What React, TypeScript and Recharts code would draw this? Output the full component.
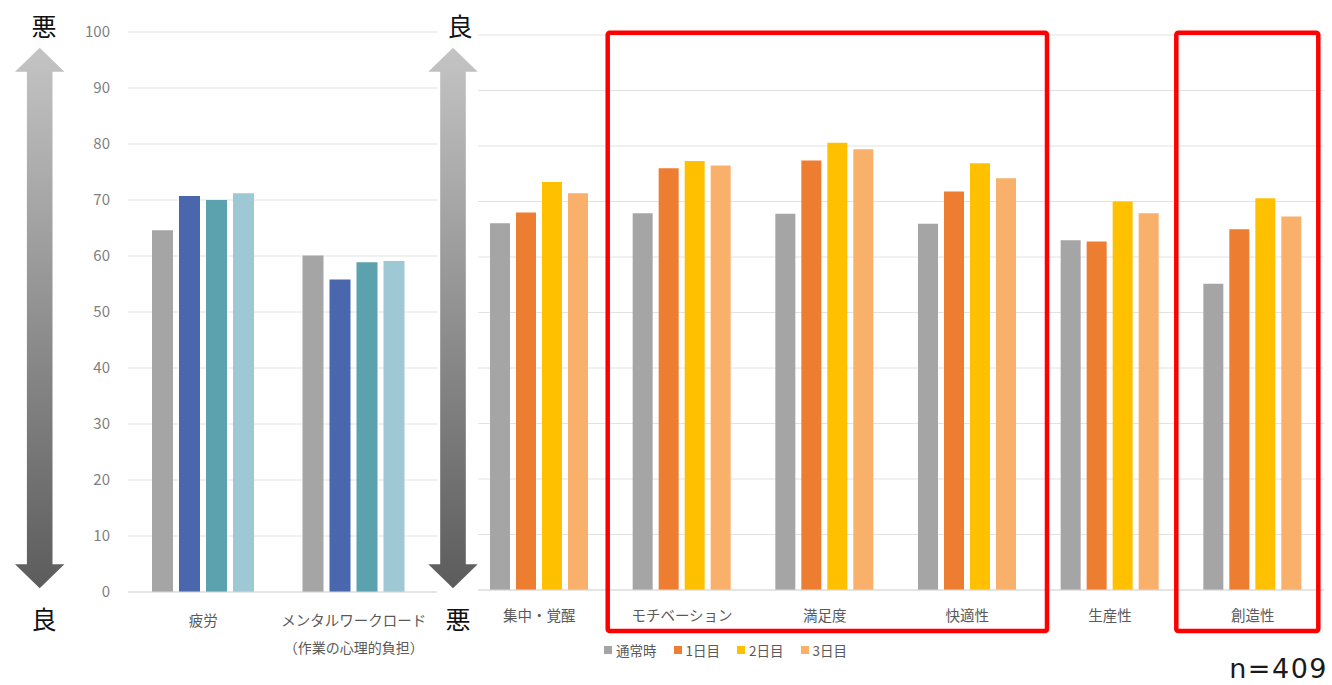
import React from "react";
import {
  BarChart,
  Bar,
  XAxis,
  YAxis,
  CartesianGrid,
  Legend,
} from "recharts";

// 左：負担系（低いほど良い）
const leftCategories = ["疲労", "メンタルワークロード"];
const leftSubLabels = ["", "（作業の心理的負担）"];
const leftNormal = [64.6, 60.1];
const leftDay1 = [70.7, 55.8];
const leftDay2 = [70.0, 58.9];
const leftDay3 = [71.2, 59.1];

// 右：評価系（高いほど良い）
const rightCategories = ["集中・覚醒", "モチベーション", "満足度", "快適性", "生産性", "創造性"];
const rightNormal = [66.1, 67.9, 67.8, 66.0, 63.0, 55.2];
const rightDay1 = [68.0, 76.0, 77.4, 71.8, 62.8, 65.0];
const rightDay2 = [73.5, 77.3, 80.6, 76.9, 70.0, 70.6];
const rightDay3 = [71.5, 76.5, 79.4, 74.2, 67.9, 67.3];

const seriesNames = ["通常時", "1日目", "2日目", "3日目"];
const yTicks = [0, 10, 20, 30, 40, 50, 60, 70, 80, 90, 100];
const sampleSize = 409;

const leftColors = ["#a5a5a5", "#4a66ac", "#5ba2ae", "#9ec8d3"];
const rightColors = ["#a5a5a5", "#ed7d31", "#ffc000", "#f8b06b"];

const leftData = leftCategories.map((name, i) => ({
  name,
  s0: leftNormal[i],
  s1: leftDay1[i],
  s2: leftDay2[i],
  s3: leftDay3[i],
}));

const rightData = rightCategories.map((name, i) => ({
  name,
  s0: rightNormal[i],
  s1: rightDay1[i],
  s2: rightDay2[i],
  s3: rightDay3[i],
}));

const labelColor = "#595959";
const gridColor = "#e2e2e2";
const axisColor = "#d9d9d9";

const LeftTick = (props: any) => {
  const { x, y, payload, index } = props;
  const sub = leftSubLabels[index];
  return (
    <g transform={`translate(${x},${y})`}>
      <text x={0} y={19} textAnchor="middle" dominantBaseline="central" fill={labelColor} fontSize={14.5}>
        {payload.value}
      </text>
      {sub && (
        <text x={0} y={47} textAnchor="middle" dominantBaseline="central" fill={labelColor} fontSize={14}>
          {sub}
        </text>
      )}
    </g>
  );
};

const RightTick = (props: any) => {
  const { x, y, payload } = props;
  return (
    <text x={x} y={y + 16} textAnchor="middle" dominantBaseline="central" fill={labelColor} fontSize={14.5}>
      {payload.value}
    </text>
  );
};

// 凡例は系列の並び順どおりに描く
const LegendRow = () => (
  <div style={{ display: "flex", alignItems: "center", whiteSpace: "nowrap" }}>
    {seriesNames.map((name, i) => (
      <span key={name} style={{ display: "flex", alignItems: "center", marginRight: 17 }}>
        <span style={{ width: 8, height: 8, background: rightColors[i], marginRight: 4 }} />
        <span style={{ fontSize: 13.5, color: labelColor }}>{name}</span>
      </span>
    ))}
  </div>
);

// 上下の矢印（グラデーション）
const arrowPath = (cx: number) => {
  const top = 47.7;
  const bottom = 588.3;
  const headBase = 24;
  const hw = 24.7;
  const sw = 12.8;
  return [
    `M${cx},${top}`,
    `L${cx + hw},${top + headBase}`,
    `L${cx + sw},${top + headBase}`,
    `L${cx + sw},${bottom - headBase}`,
    `L${cx + hw},${bottom - headBase}`,
    `L${cx},${bottom}`,
    `L${cx - hw},${bottom - headBase}`,
    `L${cx - sw},${bottom - headBase}`,
    `L${cx - sw},${top + headBase}`,
    `L${cx - hw},${top + headBase}`,
    "Z",
  ].join(" ");
};

export default function App() {
  return (
    <div
      style={{
        position: "absolute",
        left: 0,
        top: 0,
        width: 1332,
        height: 685,
        background: "#fff",
        fontFamily: "'Noto Sans CJK JP', 'Noto Sans', sans-serif",
        overflow: "hidden",
      }}
    >
      <div style={{ position: "absolute", left: 0, top: 0 }}>
        <BarChart
          width={445}
          height={685}
          data={leftData}
          margin={{ top: 32, right: 8, left: 88, bottom: 33 }}
          barGap={6}
        >
          <CartesianGrid vertical={false} stroke={gridColor} />
          <XAxis
            dataKey="name"
            interval={0}
            height={60}
            tickLine={false}
            axisLine={{ stroke: axisColor }}
            padding={{ left: 0, right: 8 }}
            tick={<LeftTick />}
          />
          <YAxis
            domain={[0, 100]}
            ticks={yTicks}
            width={40}
            tickLine={false}
            axisLine={false}
            tickSize={0}
            tickMargin={18}
            tick={{ fill: "#7f7f7f", fontSize: 15 }}
          />
          {seriesNames.map((name, i) => (
            <Bar
              key={name}
              dataKey={`s${i}`}
              name={name}
              fill={leftColors[i]}
              barSize={21}
              isAnimationActive={false}
            />
          ))}
        </BarChart>
      </div>

      <div style={{ position: "absolute", left: 440, top: 0 }}>
        <BarChart
          width={892}
          height={685}
          data={rightData}
          margin={{ top: 35, right: 8, left: 28, bottom: 35 }}
          barGap={6}
        >
          <CartesianGrid vertical={false} stroke={gridColor} />
          <XAxis
            dataKey="name"
            interval={0}
            height={60}
            tickLine={false}
            axisLine={{ stroke: axisColor }}
            tick={<RightTick />}
          />
          <YAxis domain={[0, 100]} ticks={yTicks} hide />
          <Legend
            layout="horizontal"
            verticalAlign="middle"
            align="center"
            content={<LegendRow />}
            wrapperStyle={{ position: "absolute", left: 164, top: 640, width: 300, height: 20 }}
          />
          {seriesNames.map((name, i) => (
            <Bar
              key={name}
              dataKey={`s${i}`}
              name={name}
              fill={rightColors[i]}
              barSize={20}
              isAnimationActive={false}
            />
          ))}
        </BarChart>
      </div>

      <svg
        width={1332}
        height={685}
        style={{ position: "absolute", left: 0, top: 0, pointerEvents: "none" }}
      >
        <defs>
          <linearGradient id="arrowFill" x1="0" y1="0" x2="0" y2="1">
            <stop offset="0" stopColor="#c4c4c4" />
            <stop offset="1" stopColor="#5c5c5c" />
          </linearGradient>
        </defs>
        <rect x={438} y={20} width={40} height={575} fill="#fff" />
        <path d={arrowPath(39.7)} fill="url(#arrowFill)" />
        <path d={arrowPath(453)} fill="url(#arrowFill)" />
        <g fontSize={25} fill="#111" textAnchor="middle" dominantBaseline="central">
          <text x={44} y={25}>悪</text>
          <text x={44} y={618}>良</text>
          <text x={460} y={25}>良</text>
          <text x={458} y={618}>悪</text>
        </g>
        <rect x={607.7} y={32.7} width={439.3} height={598.3} rx={2} fill="none" stroke="#ff0000" strokeWidth={4.5} />
        <rect x={1176.3} y={32.7} width={142} height={598.3} rx={2} fill="none" stroke="#ff0000" strokeWidth={4.5} />
        <text
          x={1328}
          y={678}
          textAnchor="end"
          fontSize={27}
          fill="#1a1a1a"
          letterSpacing={1.5}
          style={{ fontFamily: "'DejaVu Sans', sans-serif" }}
        >
          {`n=${sampleSize}`}
        </text>
      </svg>
    </div>
  );
}
